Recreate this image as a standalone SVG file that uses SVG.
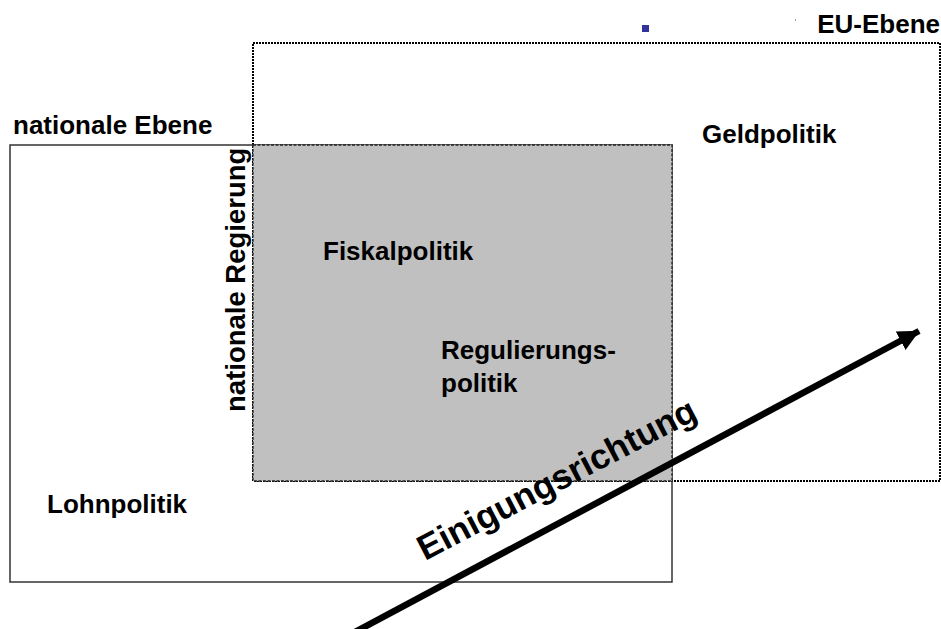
<svg xmlns="http://www.w3.org/2000/svg" width="941" height="629" viewBox="0 0 941 629">
<style>
.lbl{font-family:"Liberation Sans",Arial,sans-serif;font-weight:bold;font-size:26px;fill:#000}
.big{font-size:35px}
</style>
<defs>
<marker id="ah" markerWidth="4" markerHeight="4" refX="3.2" refY="2" orient="auto" markerUnits="strokeWidth">
<path d="M0,0.4 L3.3,2 L0,3.6 Z" fill="#000"/>
</marker>
</defs>
<rect width="941" height="629" fill="#fff"/>
<g id="eu-ebene">
<rect x="253" y="43" width="687" height="438" fill="#fff" stroke="#000" stroke-width="2" stroke-dasharray="2 1"/>
<text class="lbl" x="940" y="33" text-anchor="end">EU-Ebene</text>
<rect x="642" y="25" width="7" height="7" fill="#333399"/>
<rect x="795" y="19" width="1" height="2" fill="#9999cc"/>
</g>
<g id="nationale-ebene">
<rect x="10" y="145" width="662" height="437" fill="none" stroke="#333" stroke-width="1.5"/>
<text class="lbl" x="13" y="134">nationale Ebene</text>
</g>
<g id="ueberschneidung">
<rect x="253" y="145" width="419" height="336" fill="#c0c0c0" stroke="#222" stroke-width="1.3" stroke-dasharray="3 1.5"/>
</g>
<g id="nationale-regierung">
<text class="lbl" style="font-size:27.5px" transform="translate(245,412) rotate(-90)">nationale Regierung</text>
</g>
<g id="geldpolitik"><text class="lbl" x="702" y="143">Geldpolitik</text></g>
<g id="fiskalpolitik"><text class="lbl" x="323" y="260">Fiskalpolitik</text></g>
<g id="regulierungspolitik"><text class="lbl" x="441" y="359">Regulierungs-</text><text class="lbl" x="441" y="392">politik</text></g>
<g id="lohnpolitik"><text class="lbl" x="47" y="513">Lohnpolitik</text></g>
<g id="connectors">
<line x1="355" y1="632" x2="919" y2="331" stroke="#000" stroke-width="6.5" marker-end="url(#ah)"/>
<text class="lbl big" transform="translate(425,561) rotate(-27.5)">Einigungsrichtung</text>
</g>
</svg>
